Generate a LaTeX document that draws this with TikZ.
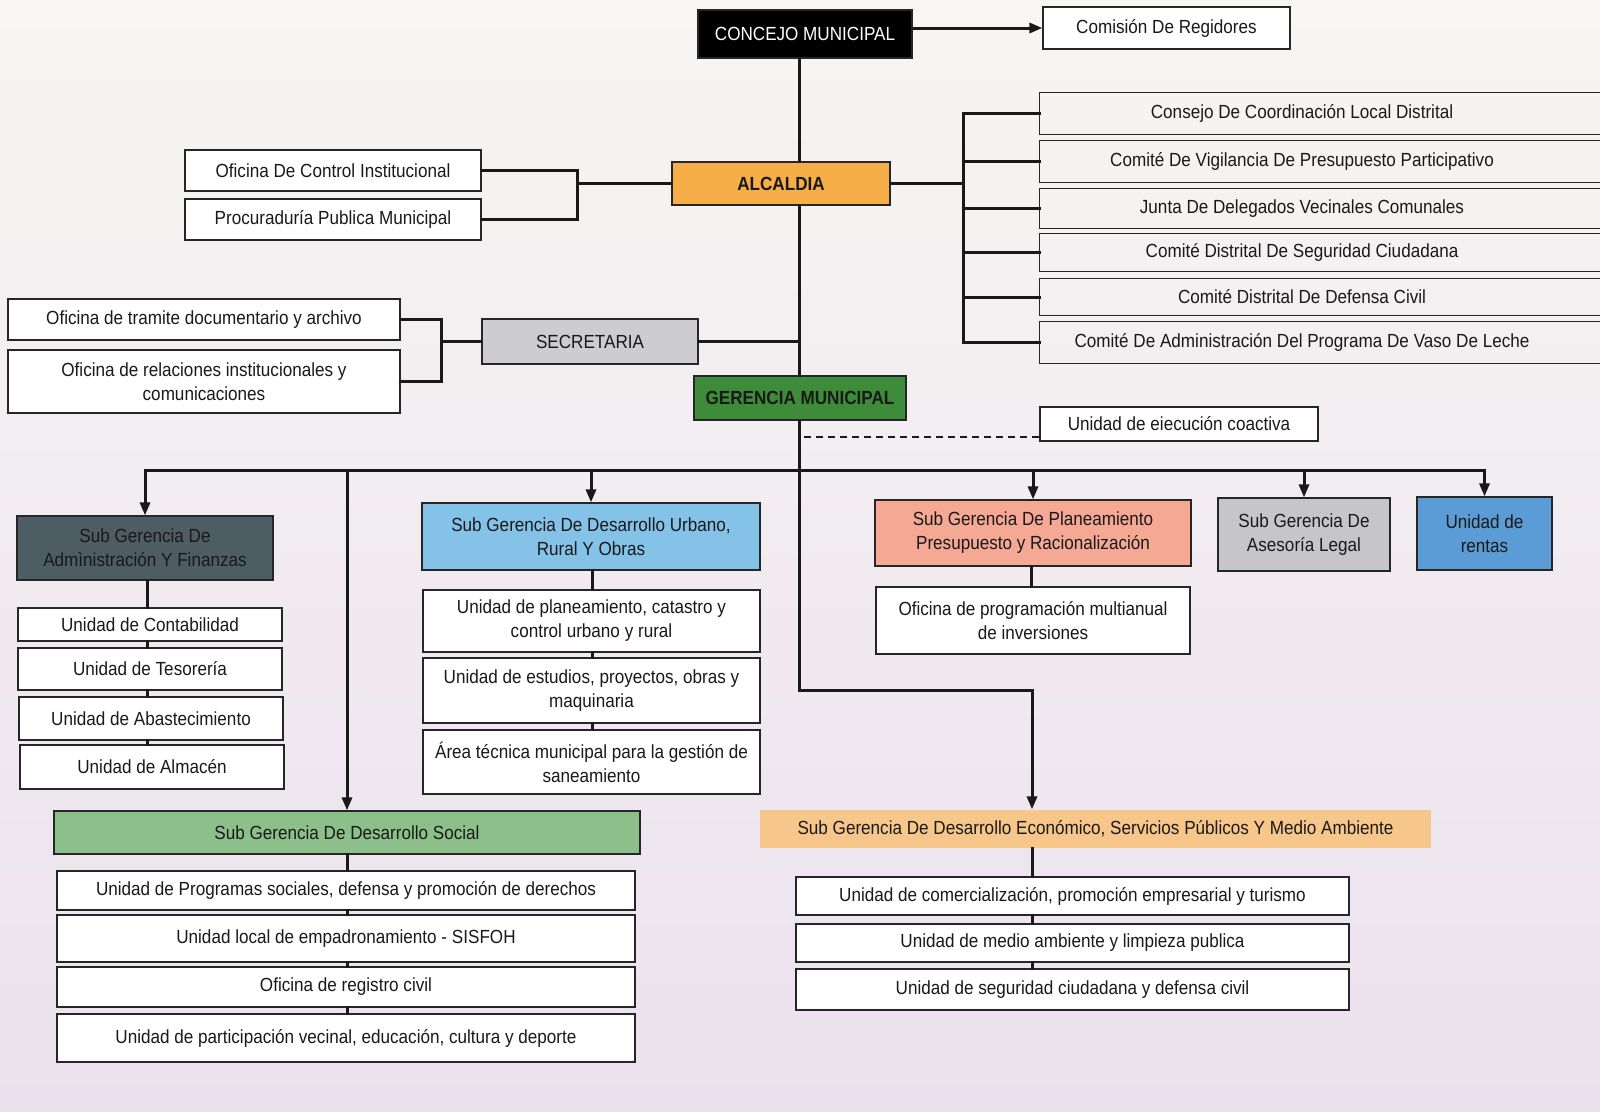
\documentclass[tikz,border=0pt]{standalone}
\usepackage{fontspec}
\setmainfont{Liberation Sans}[FakeStretch=0.9]
\usepackage{tikz}
\usetikzlibrary{arrows.meta,positioning,backgrounds}
\definecolor{bgtop}{RGB}{247,246,243}
\definecolor{bgbot}{RGB}{235,225,238}
\definecolor{alcol}{RGB}{245,174,72}
\definecolor{gecol}{RGB}{62,139,58}
\definecolor{secol}{RGB}{205,205,209}
\definecolor{adcol}{RGB}{78,92,100}
\definecolor{urcol}{RGB}{132,194,232}
\definecolor{plcol}{RGB}{245,168,148}
\definecolor{ascol}{RGB}{198,198,202}
\definecolor{recol}{RGB}{92,156,214}
\definecolor{socol}{RGB}{141,191,138}
\definecolor{eccol}{RGB}{247,198,138}
\tikzset{unit/.style={draw=black!85,line width=1.2pt,fill=white,inner sep=2pt,align=center,
font=\fontsize{19}{24}\selectfont,text=black!90},
head/.style={unit,fill=#1},
open/.style={unit,draw=none,fill=none},
edge/.style={line width=1.2pt,black!85},
conn/.style={line width=3pt,black!90,line cap=rect},
arr/.style={conn,-{Triangle[length=13pt,width=10pt]}}}

\begin{document}
\begin{tikzpicture}[x=1pt,y=-1pt]
\useasboundingbox (0,0) rectangle (1600,1111);
\shade[top color=bgtop,bottom color=bgbot] (0,0) rectangle (1600,1111);

\coordinate (tx) at (799,0);
\coordinate (lbus) at (577,0);
\coordinate (rbus) at (963,0);
\coordinate (sbus) at (441,0);
\coordinate (busy) at (0,470);
\coordinate (turn) at (1032,690);
\coordinate (ax) at (147,0);
\coordinate (ux) at (592,0);
\coordinate (px) at (1031,0);
\coordinate (sx) at (347,0);
\coordinate (ex) at (1032,0);

% top
\node[head=black,text=white,minimum width=214,minimum height=48] (concejo) at (805,34) {CONCEJO MUNICIPAL};
\node[unit,minimum width=247,minimum height=42] (comision) at (1166.5,28) {Comisión De Regidores};
\node[head=alcol,font=\fontsize{19}{24}\selectfont\bfseries,minimum width=218,minimum height=43] (alcaldia) at (781,183.5) {ALCALDIA};
\node[unit,minimum width=296,minimum height=41] (control) at (333,170.5) {Oficina De Control Institucional};
\node[unit,minimum width=296,minimum height=41] (procur) at (333,219.5) {Procuraduría Publica Municipal};

\node[open,minimum width=524,minimum height=41] (r1) at (1302,113.5) {Consejo De Coordinación Local Distrital};
\node[open,minimum width=524,minimum height=41] (r2) at (1302,161.5) {Comité De Vigilancia De Presupuesto Participativo};
\node[open,minimum width=524,minimum height=39] (r3) at (1302,208.5) {Junta De Delegados Vecinales Comunales};
\node[open,minimum width=524,minimum height=37] (r4) at (1302,252.5) {Comité Distrital De Seguridad Ciudadana};
\node[open,minimum width=524,minimum height=36] (r5) at (1302,297) {Comité Distrital De Defensa Civil};
\node[open,minimum width=524,minimum height=41] (r6) at (1302,342.5) {Comité De Administración Del Programa De Vaso De Leche};

\node[head=secol,minimum width=216,minimum height=45] (secretaria) at (590,341.5) {SECRETARIA};
\node[unit,minimum width=392,minimum height=41] (tramite) at (204,319.5) {Oficina de tramite documentario y archivo};
\node[unit,minimum width=392,minimum height=63] (relaciones) at (204,381.5) {Oficina de relaciones institucionales y\\comunicaciones};

\node[head=gecol,font=\fontsize{19}{24}\selectfont\bfseries,minimum width=212,minimum height=44] (gerencia) at (800,398) {GERENCIA MUNICIPAL};
\node[unit,minimum width=278,minimum height=34] (coactiva) at (1179,424) {Unidad de eiecución coactiva};

% sub gerencias
\node[head=adcol,minimum width=256,minimum height=64] (admin) at (145,548) {Sub Gerencia De\\Admìnistración Y Finanzas};
\node[unit,minimum width=264,minimum height=33] (contab) at (150,624.5) {Unidad de Contabilidad};
\node[unit,minimum width=264,minimum height=42] (tesor) at (150,669) {Unidad de Tesorería};
\node[unit,minimum width=264,minimum height=43] (abast) at (151,718.5) {Unidad de Abastecimiento};
\node[unit,minimum width=264,minimum height=44] (almac) at (152,767) {Unidad de Almacén};

\node[head=urcol,minimum width=338,minimum height=67] (urbano) at (591,536.5) {Sub Gerencia De Desarrollo Urbano,\\Rural Y Obras};
\node[unit,minimum width=337,minimum height=62] (u1) at (591.5,621) {Unidad de planeamiento, catastro y\\control urbano y rural};
\node[unit,minimum width=337,minimum height=65] (u2) at (591.5,690.5) {Unidad de estudios, proyectos, obras y\\maquinaria};
\node[unit,minimum width=337,minimum height=64] (u3) at (591.5,762) {Área técnica municipal para la gestión de\\saneamiento};

\node[head=plcol,minimum width=316,minimum height=66] (planea) at (1033,533) {Sub Gerencia De Planeamiento\\Presupuesto y Racionalización};
\node[unit,minimum width=314,minimum height=67] (opmi) at (1033,620.5) {Oficina de programación multianual\\de inversiones};
\node[head=ascol,minimum width=172,minimum height=73] (asesoria) at (1304,534.5) {Sub Gerencia De\\Asesoría Legal};
\node[head=recol,minimum width=135,minimum height=73] (rentas) at (1484.5,533.5) {Unidad de\\rentas};

\node[head=socol,minimum width=586,minimum height=43] (social) at (347,832.5) {Sub Gerencia De Desarrollo Social};
\node[unit,minimum width=578,minimum height=39] (s1) at (346,890.5) {Unidad de Programas sociales, defensa y promoción de derechos};
\node[unit,minimum width=578,minimum height=47] (s2) at (346,938.5) {Unidad local de empadronamiento - SISFOH};
\node[unit,minimum width=578,minimum height=40] (s3) at (346,987) {Oficina de registro civil};
\node[unit,minimum width=578,minimum height=48] (s4) at (346,1038) {Unidad de participación vecinal, educación, cultura y deporte};

\node[head=eccol,draw=none,minimum width=671,minimum height=38] (economico) at (1095.5,829) {Sub Gerencia De Desarrollo Económico, Servicios Públicos Y Medio Ambiente};
\node[unit,minimum width=553,minimum height=38] (e1) at (1072.5,896) {Unidad de comercialización, promoción empresarial y turismo};
\node[unit,minimum width=553,minimum height=38] (e2) at (1072.5,943) {Unidad de medio ambiente y limpieza publica};
\node[unit,minimum width=553,minimum height=41] (e3) at (1072.5,989.5) {Unidad de seguridad ciudadana y defensa civil};

% connectors
\draw[arr] (concejo.east |- comision) -- (comision.west);
\draw[conn] (concejo.south -| tx) -- (alcaldia.north -| tx);
\draw[conn] (alcaldia.south -| tx) -- (gerencia.north -| tx);
\draw[conn] (control.east) -| (lbus |- procur.east) -- (procur.east);
\draw[conn] (lbus |- alcaldia.west) -- (alcaldia.west);
\draw[conn] (alcaldia.east) -- (alcaldia.east -| rbus);
\draw[conn] (rbus |- r1.west) -- (rbus |- r6.west);
\foreach \n in {r1,r2,r3,r4,r5,r6}{
  \draw[edge] ([xshift=45pt]\n.north east) -- (\n.north west) -- (\n.south west) -- ([xshift=45pt]\n.south east);
  \draw[conn] (rbus |- \n.west) -- (\n.west);
}
\draw[conn] (tramite.east) -| (sbus |- relaciones.east) -- (relaciones.east);
\draw[conn] (sbus |- secretaria.west) -- (secretaria.west);
\draw[conn] (secretaria.east) -- (secretaria.east -| tx);
\draw[line width=1.6pt,black!90,dash pattern=on 7pt off 5pt] ([yshift=-13pt]coactiva.west) -- ([yshift=-13pt]coactiva.west -| tx);

\draw[arr] (gerencia.south -| tx) |- (turn) -- (turn |- economico.north);
\draw[conn] (admin.north |- busy) -- (rentas.north |- busy);
\foreach \n in {admin,urbano,planea,asesoria,rentas,social}
  \draw[arr] (\n.north |- busy) -- (\n.north);

\foreach \a/\b in {admin/contab,contab/tesor,tesor/abast,abast/almac}
  \draw[conn] (\a.south -| ax) -- (\b.north -| ax);
\foreach \a/\b in {urbano/u1,u1/u2,u2/u3}
  \draw[conn] (\a.south -| ux) -- (\b.north -| ux);
\draw[conn] (planea.south -| px) -- (opmi.north -| px);
\foreach \a/\b in {social/s1,s1/s2,s2/s3,s3/s4}
  \draw[conn] (\a.south -| sx) -- (\b.north -| sx);
\foreach \a/\b in {economico/e1,e1/e2,e2/e3}
  \draw[conn] (\a.south -| ex) -- (\b.north -| ex);
\end{tikzpicture}
\end{document}
